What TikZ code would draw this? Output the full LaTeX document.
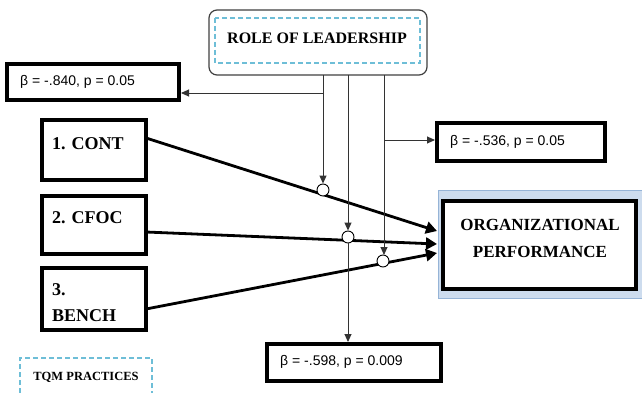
\documentclass[tikz,border=0pt]{standalone}
\usepackage{fontspec}
\setmainfont{Liberation Serif}
\newfontfamily\arialf{Liberation Sans}
\usetikzlibrary{arrows.meta}
\definecolor{dashblue}{RGB}{110,190,215}
\definecolor{orgblue}{RGB}{205,220,238}
\definecolor{orgedge}{RGB}{150,180,215}
\tikzset{
  varbox/.style={draw=black,line width=3.6pt,fill=white},
  statfont/.style={font=\arialf\fontsize{14}{16}\selectfont,anchor=west,inner sep=0pt},
  thick path/.style={draw=black,line width=2.8pt,-{Triangle[length=11pt,width=12pt]}},
  thin arrow/.style={draw=black!80,line width=0.9pt,-{Triangle[length=8pt,width=7pt]}},
  modcirc/.style={circle,draw=black,line width=0.9pt,fill=white,minimum size=12pt,inner sep=0pt},
  lbl/.style={font=\bfseries\fontsize{18}{20}\selectfont,inner sep=0pt},
}
\begin{document}
\begin{tikzpicture}[x=1pt,y=-1pt]
\useasboundingbox (0,0) rectangle (642,393);
% leadership
\draw[line width=1.2pt,draw=black!75,rounded corners=8pt,fill=white] (209,10) rectangle (427,75);
\draw[dashed,dash pattern=on 5pt off 3pt,draw=dashblue,line width=1.2pt] (215,18) rectangle (420,63);
\node[lbl,font=\bfseries\fontsize{16}{18}\selectfont] (lead) at (317,38) {ROLE OF LEADERSHIP};
% TQM label
\draw[dashed,dash pattern=on 5pt off 3pt,draw=dashblue,line width=1.2pt] (20,393) -- (20,358) -- (152,358) -- (152,393);
\node[font=\bfseries\fontsize{12.5}{14}\selectfont,inner sep=0pt] (tqm) at (86,377) {TQM PRACTICES};
% independent variables
\draw[varbox] (42,120) rectangle (146,180);
\node[lbl,anchor=west] (cont) at (52,144) {1. CONT};
\draw[varbox] (42,196) rectangle (146,254);
\node[lbl,anchor=west] (cfoc) at (52,218) {2. CFOC};
\draw[varbox] (42,268) rectangle (146,330);
\node[lbl,anchor=west] (b3) at (52,290) {3.};
\node[lbl,anchor=west] (bench) at (52,316) {BENCH};
% org performance
\draw[draw=orgedge,fill=orgblue,line width=0.8pt] (438,190) rectangle (642,298);
\draw[varbox] (443,201) rectangle (636,289);
\node[align=center,inner sep=0pt,font=\bfseries\fontsize{17}{27}\selectfont] (org) at (540,238) {ORGANIZATIONAL\\PERFORMANCE};
% stat boxes
\draw[varbox] (7,64) rectangle (179,100);
\node[statfont] (s1) at (20,82) {β = -.840, p = 0.05};
\draw[varbox] (437,123) rectangle (605,161);
\node[statfont] (s2) at (450,142) {β = -.536, p = 0.05};
\draw[varbox] (267,344) rectangle (441,381);
\node[statfont] (s3) at (280,362) {β = -.598, p = 0.009};
% coordinates
\coordinate (contR) at (146,138);
\coordinate (cfocR) at (146,232);
\coordinate (benchR) at (146,309);
\coordinate (orgA) at (437,231);
\coordinate (orgB) at (437,244);
\coordinate (orgC) at (437,253);
% main paths
\draw[thick path] (contR) -- (orgA);
\draw[thick path] (cfocR) -- (orgB);
\draw[thick path] (benchR) -- (orgC);
% moderator circles
\node[modcirc] (m1) at (323,190) {};
\node[modcirc] (m2) at (348,237) {};
\node[modcirc] (m3) at (383,261) {};
% leadership lines
\coordinate (l1) at (323,75);
\coordinate (l2) at (348,75);
\coordinate (l3) at (384,75);
\draw[thin arrow] (l1) -- (m1.north);
\draw[thin arrow] (l2) -- (m2.north);
\draw[thin arrow] (l3) -- (384,255);
\coordinate (j1) at (323,93);
\coordinate (j3) at (384,140);
\draw[thin arrow] (j1) -- (181,93);
\draw[thin arrow] (j3) -- (435,140);
\draw[thin arrow] (m2.south) -- (348,342);
\end{tikzpicture}
\end{document}
